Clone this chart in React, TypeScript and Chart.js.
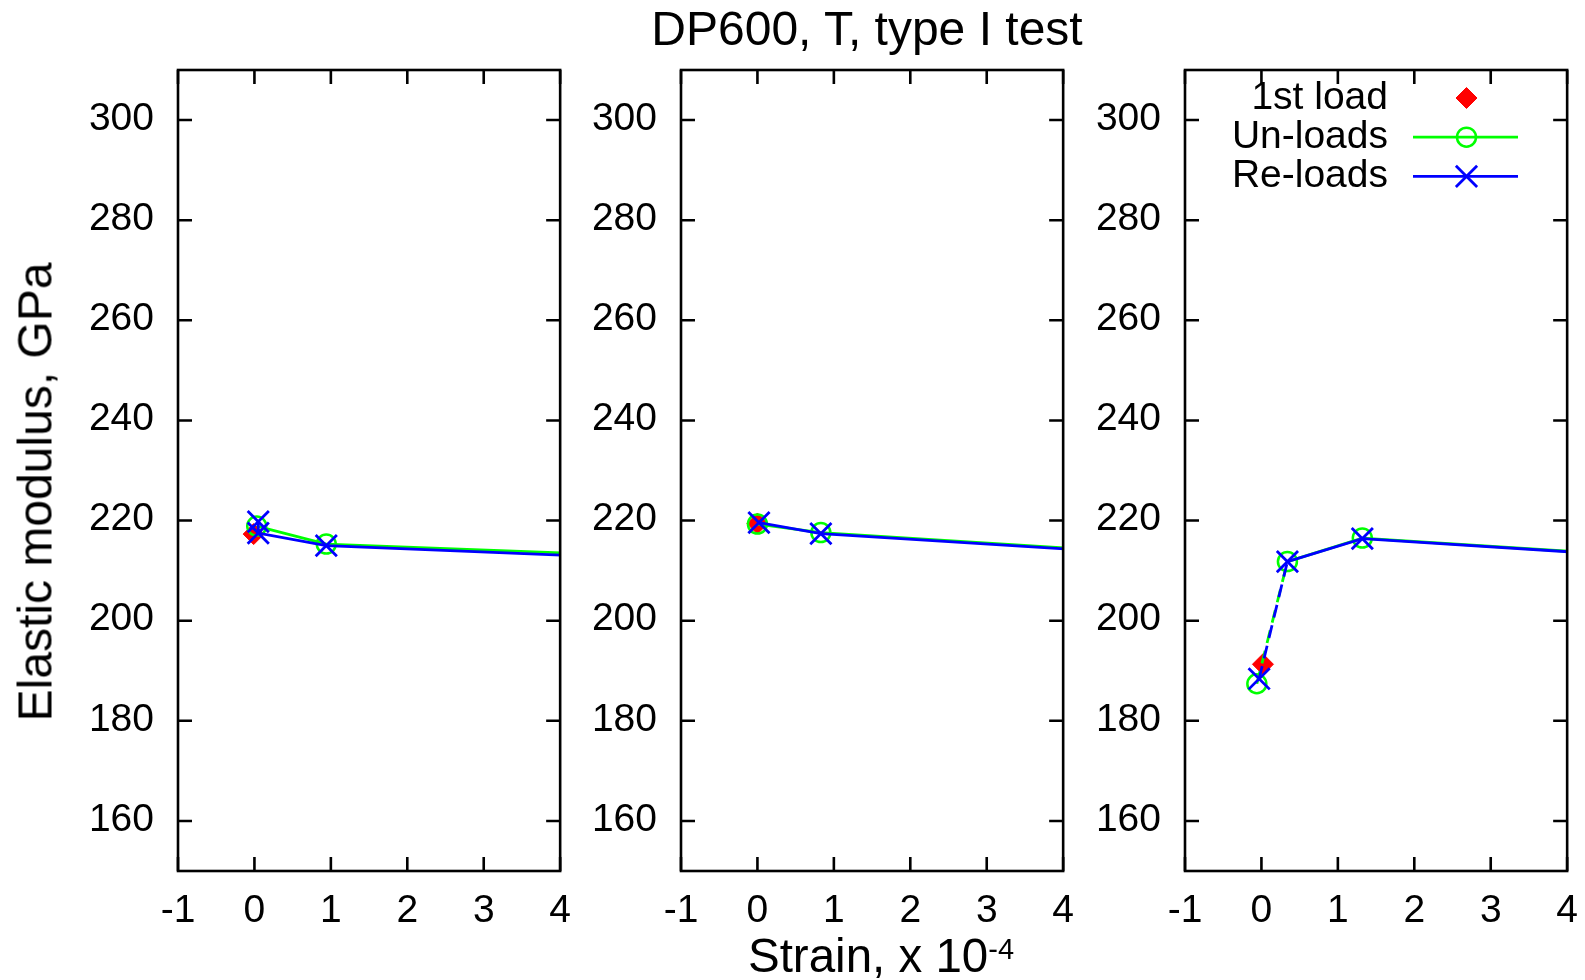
import React, { useEffect, useRef } from 'react';
import { Chart, registerables } from 'chart.js';

Chart.register(...registerables);

// ---------- text ----------
const titleText = 'DP600, T, type I test';
const yTitleText = 'Elastic modulus, GPa';
const xTitleMain = 'Strain, x 10';
const xTitleExp = '-4';

// ---------- axes ----------
const xTicks = [-1, 0, 1, 2, 3, 4];
const yTicks = [160, 180, 200, 220, 240, 260, 280, 300];
const xMin = -1;
const xMax = 4;
const yMin = 150;
const yMax = 310;

// ---------- series labels ----------
const seriesLabels = ['1st load', 'Un-loads', 'Re-loads'];

// ---------- panel 1 ----------
const p1FirstX = [-0.01];
const p1FirstY = [217.3];
const p1UnX = [0.03, 0.94, 5];
const p1UnY = [218.9, 215.3, 213.0];
const p1ReX = [0.05, 0.05, 0.94, 5];
const p1ReY = [219.8, 217.5, 215.0, 212.5];

// ---------- panel 2 ----------
const p2FirstX = [0.0];
const p2FirstY = [219.4];
const p2UnX = [0.0, 0.83, 5];
const p2UnY = [219.3, 217.6, 213.6];
const p2ReX = [0.02, 0.83, 5];
const p2ReY = [219.6, 217.4, 213.4];

// ---------- panel 3 ----------
const p3FirstX = [0.02];
const p3FirstY = [191.3];
const p3UnX = [-0.06, 0.34, 1.32, 5];
const p3UnY = [187.4, 211.8, 216.5, 212.9];
const p3ReX = [-0.03, 0.34, 1.32, 5];
const p3ReY = [188.4, 211.8, 216.4, 212.8];
const p3DashedSegments = [0];

const FONT = '"Liberation Sans", Arial, Helvetica, sans-serif';
const RED = '#ff0000';
const GREEN = '#00ff00';
const BLUE = '#0000ff';

const toPts = (xs: number[], ys: number[]) => xs.map((x, i) => ({ x, y: ys[i] }));

function makeDatasets(fx: number[], fy: number[], ux: number[], uy: number[], rx: number[], ry: number[], dashed: number[]) {
  const seg = {
    borderDash: (ctx: any) => (dashed.includes(ctx.p0DataIndex) ? [13, 8] : undefined),
  };
  return [
    {
      label: seriesLabels[0],
      data: toPts(fx, fy),
      showLine: false,
      pointStyle: 'rectRot',
      pointRadius: 10.5,
      pointBackgroundColor: RED,
      pointBorderColor: RED,
      pointBorderWidth: 1,
      borderColor: RED,
      backgroundColor: RED,
      order: 2,
    },
    {
      label: seriesLabels[1],
      data: toPts(ux, uy),
      showLine: true,
      tension: 0,
      borderColor: GREEN,
      borderWidth: 2.8,
      pointStyle: 'circle',
      pointRadius: 9.5,
      pointBackgroundColor: 'rgba(0,0,0,0)',
      pointBorderColor: GREEN,
      pointBorderWidth: 2.5,
      segment: seg,
      order: 1,
    },
    {
      label: seriesLabels[2],
      data: toPts(rx, ry),
      showLine: true,
      tension: 0,
      borderColor: BLUE,
      borderWidth: 2.8,
      pointStyle: 'crossRot',
      pointRadius: 15,
      pointBackgroundColor: BLUE,
      pointBorderColor: BLUE,
      pointBorderWidth: 2.8,
      segment: seg,
      order: 0,
    },
  ];
}

const TICK_LEN = 14;

const frameTicksPlugin = {
  id: 'frameTicks',
  afterDatasetsDraw(chart: any) {
    const { ctx, chartArea: a, scales } = chart;
    ctx.save();
    ctx.strokeStyle = '#000';
    ctx.lineWidth = 2.6;
    ctx.beginPath();
    for (const v of yTicks) {
      const py = scales.y.getPixelForValue(v);
      ctx.moveTo(a.left, py);
      ctx.lineTo(a.left + TICK_LEN, py);
      ctx.moveTo(a.right, py);
      ctx.lineTo(a.right - TICK_LEN, py);
    }
    for (const v of xTicks) {
      const px = scales.x.getPixelForValue(v);
      ctx.moveTo(px, a.bottom);
      ctx.lineTo(px, a.bottom - TICK_LEN);
      ctx.moveTo(px, a.top);
      ctx.lineTo(px, a.top + TICK_LEN);
    }
    ctx.stroke();
    ctx.strokeRect(a.left, a.top, a.right - a.left, a.bottom - a.top);
    ctx.restore();
  },
};

function drawMarker(ctx: CanvasRenderingContext2D, ds: any, x: number, y: number) {
  const r = ds.pointRadius;
  ctx.save();
  ctx.strokeStyle = ds.pointBorderColor;
  ctx.fillStyle = ds.pointBackgroundColor;
  ctx.lineWidth = ds.pointBorderWidth;
  ctx.beginPath();
  if (ds.pointStyle === 'rectRot') {
    ctx.moveTo(x - r, y);
    ctx.lineTo(x, y - r);
    ctx.lineTo(x + r, y);
    ctx.lineTo(x, y + r);
    ctx.closePath();
    ctx.fill();
    ctx.stroke();
  } else if (ds.pointStyle === 'circle') {
    ctx.arc(x, y, r, 0, Math.PI * 2);
    ctx.stroke();
  } else {
    const d = r * Math.SQRT1_2;
    ctx.moveTo(x - d, y - d);
    ctx.lineTo(x + d, y + d);
    ctx.moveTo(x + d, y - d);
    ctx.lineTo(x - d, y + d);
    ctx.stroke();
  }
  ctx.restore();
}

const innerLegendPlugin = {
  id: 'innerLegend',
  afterDraw(chart: any, _args: any, opts: any) {
    if (!opts || !opts.show) return;
    const { ctx } = chart;
    const datasets = chart.data.datasets;
    ctx.save();
    ctx.font = `39px ${FONT}`;
    ctx.fillStyle = '#000';
    ctx.textAlign = 'right';
    ctx.textBaseline = 'middle';
    datasets.forEach((ds: any, i: number) => {
      const y = opts.rowY0 + i * opts.rowGap;
      ctx.fillText(ds.label, opts.textRight, y);
      if (ds.showLine) {
        ctx.save();
        ctx.strokeStyle = ds.borderColor;
        ctx.lineWidth = ds.borderWidth;
        ctx.beginPath();
        ctx.moveTo(opts.lineX0, y);
        ctx.lineTo(opts.lineX1, y);
        ctx.stroke();
        ctx.restore();
      }
      drawMarker(ctx, ds, opts.markerX, y);
    });
    ctx.restore();
  },
};

// chartArea.right = width - (half of last x label + x tick padding) ~= width - 27.8
const CANVAS_W = 588;
const CANVAS_H = 980;
const Y_AXIS_W = 178;
const X_AXIS_H = 109;

function Panel({ left, datasets, legend }: { left: number; datasets: any[]; legend: boolean }) {
  const ref = useRef<HTMLCanvasElement | null>(null);
  useEffect(() => {
    if (!ref.current) return;
    const chart = new Chart(ref.current, {
      type: 'scatter',
      data: { datasets },
      options: {
        animation: false,
        responsive: false,
        maintainAspectRatio: false,
        events: [],
        layout: { padding: { top: 70, right: 0, left: 0, bottom: 0 } },
        plugins: {
          legend: { display: false },
          tooltip: { enabled: false },
          title: { display: false },
          innerLegend: legend
            ? {
                show: true,
                textRight: 1388 - left,
                rowY0: 98,
                rowGap: 39.2,
                lineX0: 1413 - left,
                lineX1: 1518 - left,
                markerX: 1466.5 - left,
              }
            : { show: false },
        } as any,
        scales: {
          x: {
            type: 'linear',
            min: xMin,
            max: xMax,
            grid: { display: false, drawTicks: false },
            border: { display: false },
            afterBuildTicks: (s: any) => {
              s.ticks = xTicks.map((v) => ({ value: v }));
            },
            afterFit: (s: any) => {
              s.height = X_AXIS_H;
            },
            ticks: {
              font: { family: FONT, size: 39 },
              color: '#000',
              padding: 17,
              maxRotation: 0,
              autoSkip: false,
              callback: (v: any) => String(v),
            },
          },
          y: {
            type: 'linear',
            min: yMin,
            max: yMax,
            grid: { display: false, drawTicks: false },
            border: { display: false },
            afterBuildTicks: (s: any) => {
              s.ticks = yTicks.map((v) => ({ value: v }));
            },
            afterFit: (s: any) => {
              s.width = Y_AXIS_W;
            },
            ticks: {
              font: { family: FONT, size: 39 },
              color: '#000',
              padding: 24,
              labelOffset: -1,
              autoSkip: false,
              callback: (v: any) => String(v),
            },
          },
        },
      } as any,
      plugins: [frameTicksPlugin, innerLegendPlugin],
    });
    return () => chart.destroy();
  }, []);
  return (
    <canvas
      ref={ref}
      width={CANVAS_W}
      height={CANVAS_H}
      style={{ position: 'absolute', left, top: 0, width: CANVAS_W, height: CANVAS_H }}
    />
  );
}

export default function App() {
  const d1 = makeDatasets(p1FirstX, p1FirstY, p1UnX, p1UnY, p1ReX, p1ReY, []);
  const d2 = makeDatasets(p2FirstX, p2FirstY, p2UnX, p2UnY, p2ReX, p2ReY, []);
  const d3 = makeDatasets(p3FirstX, p3FirstY, p3UnX, p3UnY, p3ReX, p3ReY, p3DashedSegments);
  return (
    <div
      style={{
        position: 'fixed',
        left: 0,
        top: 0,
        width: 1585,
        height: 980,
        overflow: 'hidden',
        background: '#fff',
        fontFamily: FONT,
        color: '#000',
      }}
    >
      <Panel left={0} datasets={d1} legend={false} />
      <Panel left={503} datasets={d2} legend={false} />
      <Panel left={1007} datasets={d3} legend={true} />
      <div
        style={{
          position: 'absolute',
          left: 867,
          top: 1,
          transform: 'translateX(-50%)',
          fontSize: 48,
          whiteSpace: 'nowrap',
          lineHeight: 'normal',
        }}
      >
        {titleText}
      </div>
      <div
        style={{
          position: 'absolute',
          left: 35,
          top: 492,
          transform: 'translate(-50%, -50%) rotate(-90deg)',
          fontSize: 48,
          whiteSpace: 'nowrap',
          lineHeight: 'normal',
        }}
      >
        {yTitleText}
      </div>
      <div
        style={{
          position: 'absolute',
          left: 881,
          top: 928,
          transform: 'translateX(-50%)',
          fontSize: 47.5,
          whiteSpace: 'nowrap',
          lineHeight: 'normal',
        }}
      >
        {xTitleMain}
        <span style={{ fontSize: 29, position: 'relative', top: -13 }}>{xTitleExp}</span>
      </div>
    </div>
  );
}
